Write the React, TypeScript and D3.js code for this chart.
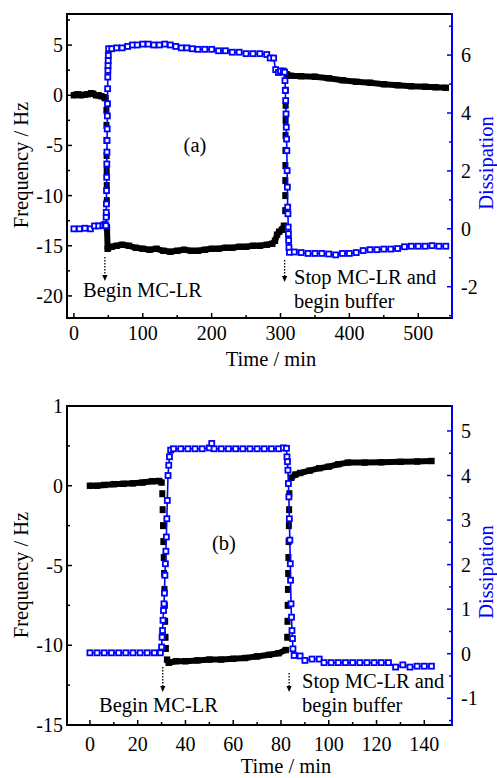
import React from "react";
import * as d3 from "d3";

const W = 497;
const H = 778;
const FONT = "Liberation Serif, DejaVu Serif, serif";
const BLUE = "#0000ff";

// ---------------- Panel (a) data ----------------
const xTicksA = [0, 100, 200, 300, 400, 500];
const xMinorA = [50, 150, 250, 350, 450];
const yLTicksA = [-20, -15, -10, -5, 0, 5];
const yLLabelsA = ["-20", "-15", "-10", "-5", "0", "5"];
const yLMinorA = [-17.5, -12.5, -7.5, -2.5, 2.5, 7.5];
const yRTicksA = [-2, 0, 2, 4, 6];
const yRMinorA = [-3, -1, 1, 3, 5, 7];

const freqA_before = [[0, 0], [3, 0.05], [6, 0.1], [10, 0.0], [15, 0.05], [20, 0.1], [25, 0.2], [28, 0.15], [32, 0.0], [36, 0.0], [40, -0.1], [44, -0.2], [46, -0.3]];
const freqA_drop = [[47.2, -1.5], [47.3, -3], [47.4, -4.5], [47.5, -6], [47.6, -7.5], [47.7, -9], [47.8, -10.5], [47.9, -12], [48, -13.2]];
const freqA_mid = [[48, -13.2], [49, -15.3], [55, -15.1], [62, -15.0], [70, -14.9], [80, -15.0], [90, -15.2], [100, -15.3], [110, -15.4], [120, -15.3], [130, -15.5], [140, -15.6], [150, -15.5], [160, -15.4], [170, -15.5], [180, -15.5], [190, -15.4], [200, -15.3], [210, -15.3], [220, -15.2], [230, -15.2], [240, -15.1], [250, -15.1], [260, -15.0], [270, -15.0], [280, -14.9], [288, -14.8], [292, -14.5], [295, -13.9], [298, -13.6], [302, -13.4], [305, -13.0]];
const freqA_rise = [[306.8, -11.5], [306.9, -10], [307, -8.5], [307.1, -7], [307.2, -5.5], [307.3, -4], [307.4, -2.5], [307.5, -1], [307.6, 0.5]];
const freqA_after = [[309, 2.1], [315, 1.95], [330, 1.9], [350, 1.85], [370, 1.7], [390, 1.5], [410, 1.35], [430, 1.25], [450, 1.1], [470, 1.0], [490, 0.9], [510, 0.85], [525, 0.8], [540, 0.75]];

const dissA = [[0, 0.0], [8, 0.0], [16, 0.02], [24, 0.0], [30, 0.1], [36, 0.1], [42, 0.12], [45, 0.15], [46.5, 0.11], [46.8, 0.4], [47.0, 0.57], [47.2, 0.86], [47.4, 1.32], [47.6, 1.78], [47.8, 2.24], [48.0, 2.65], [48.2, 3.05], [48.4, 3.45], [48.6, 3.9], [48.8, 4.32], [49.0, 4.84], [49.2, 5.24], [49.4, 5.47], [49.6, 5.64], [49.8, 5.81], [50, 5.99], [50.5, 6.22], [55, 6.22], [62, 6.25], [70, 6.25], [78, 6.3], [85, 6.35], [92, 6.35], [100, 6.38], [108, 6.38], [116, 6.35], [124, 6.35], [132, 6.38], [140, 6.35], [148, 6.3], [156, 6.25], [164, 6.25], [172, 6.22], [180, 6.2], [190, 6.2], [200, 6.2], [210, 6.15], [220, 6.15], [230, 6.1], [240, 6.1], [250, 6.05], [260, 6.05], [270, 6.05], [280, 6.02], [285, 5.9], [290, 5.9], [293, 5.5], [297, 5.4], [300, 5.45], [304, 5.45], [306, 5.41], [306.5, 5.12], [307, 4.78], [307.5, 4.43], [308, 3.97], [308.4, 3.51], [308.8, 3.1], [309.2, 2.7], [309.6, 2.01], [310, 1.44], [310.4, 0.75], [310.8, 0.52], [311.2, 0.06], [311.5, -0.17], [311.8, -0.4], [312.2, -0.64], [313, -0.81], [320, -0.8], [330, -0.82], [340, -0.85], [350, -0.85], [360, -0.85], [370, -0.87], [380, -0.9], [390, -0.85], [400, -0.85], [410, -0.82], [420, -0.75], [430, -0.72], [440, -0.72], [450, -0.7], [460, -0.7], [470, -0.68], [480, -0.62], [490, -0.6], [500, -0.6], [510, -0.6], [520, -0.58], [530, -0.6], [540, -0.6]];

// ---------------- Panel (b) data ----------------
const xTicksB = [0, 20, 40, 60, 80, 100, 120, 140];
const xMinorB = [10, 30, 50, 70, 90, 110, 130];
const yLTicksB = [-15, -10, -5, 0, 5];
const yLLabelsB = ["-15", "-10", "-5", "0", "1"];
const yLMinorB = [-12.5, -7.5, -2.5, 2.5];
const yRTicksB = [-1, 0, 1, 2, 3, 4, 5];
const yRMinorB = [-1.5, -0.5, 0.5, 1.5, 2.5, 3.5, 4.5];

const freqB_before = [[0, 0.0], [3, 0.0], [6, 0.05], [10, 0.1], [14, 0.12], [18, 0.15], [22, 0.2], [26, 0.28], [29, 0.3], [30, 0.2]];
const freqB_drop = [[30.3, -0.5], [30.45, -1.5], [30.6, -2.5], [30.75, -3.5], [30.9, -4.5], [31.05, -5.5], [31.2, -6.5], [31.35, -7.5], [31.5, -8.5], [31.65, -9.5], [31.8, -10.2]];
const freqB_mid = [[32.3, -10.9], [33, -11.1], [36, -11.0], [40, -11.0], [45, -10.95], [50, -10.9], [55, -10.9], [60, -10.85], [65, -10.8], [70, -10.7], [75, -10.6], [79, -10.5], [82, -10.3]];
const freqB_rise = [[82.6, -9.5], [82.7, -8.5], [82.8, -7.5], [82.9, -6.5], [83.0, -5.5], [83.1, -4.5], [83.2, -3.5], [83.3, -2.5], [83.4, -1.5], [83.5, -0.5]];
const freqB_after = [[84.3, 0.5], [86, 0.7], [88, 0.8], [92, 0.95], [96, 1.1], [100, 1.2], [104, 1.35], [108, 1.45], [115, 1.45], [122, 1.47], [130, 1.5], [137, 1.52], [143, 1.55]];

const dissB = [[0, 0.02], [3, 0.02], [6, 0.02], [9, 0.02], [12, 0.02], [15, 0.02], [18, 0.02], [21, 0.02], [24, 0.02], [27, 0.02], [29.5, 0.02], [30.0, 0.15], [30.2, 0.37], [30.4, 0.52], [30.6, 0.75], [30.8, 0.97], [31.0, 1.12], [31.2, 1.36], [31.4, 1.76], [31.6, 2.02], [31.8, 2.3], [32.0, 2.62], [32.2, 3.03], [32.4, 3.44], [32.7, 4.0], [33.0, 4.23], [33.3, 4.42], [33.8, 4.57], [35, 4.6], [38, 4.6], [41, 4.6], [44, 4.6], [47, 4.6], [50, 4.62], [51, 4.72], [52, 4.6], [55, 4.6], [58, 4.6], [61, 4.6], [64, 4.6], [67, 4.6], [70, 4.6], [73, 4.6], [76, 4.6], [79, 4.6], [81, 4.62], [82.3, 4.61], [82.5, 4.42], [82.7, 4.31], [82.9, 4.12], [83.1, 3.82], [83.3, 3.52], [83.5, 3.03], [83.7, 2.55], [83.9, 2.02], [84.0, 1.65], [84.2, 1.12], [84.4, 0.82], [84.6, 0.52], [84.8, 0.34], [85.0, 0.11], [85.5, -0.04], [88, -0.05], [90, -0.15], [93, -0.12], [96, -0.12], [98, -0.2], [101, -0.2], [104, -0.2], [107, -0.2], [110, -0.2], [113, -0.2], [116, -0.2], [119, -0.2], [122, -0.2], [125, -0.2], [128, -0.3], [131, -0.25], [134, -0.3], [137, -0.28], [140, -0.28], [143, -0.28]];

// ---------------- Layout ----------------
const panels = [
  {
    box: { left: 67, top: 14, right: 452, bottom: 318 },
    xDomain: [-10, 549], yLDomain: [-22.2, 8.1], yRDomain: [-3.08, 7.42],
    xTicks: xTicksA, xMinor: xMinorA, yLTicks: yLTicksA, yLLabels: yLLabelsA, yLMinor: yLMinorA,
    yRTicks: yRTicksA, yRMinor: yRMinorA,
    freqLines: [freqA_before, freqA_mid, freqA_after], freqDashes: [freqA_drop, freqA_rise], diss: dissA,
    tag: "(a)", tagX: 195, tagY: 152,
    xLabelX: 271, xLabelY: 366, yLabelY: 165, rLabelY: 163,
    xTickBase: 340,
    notes: [
      { t: 45, y0: 257, y1: 281, tx: 83, lines: ["Begin MC-LR"], ty: 297 },
      { t: 306, y0: 260, y1: 282, tx: 294, lines: ["Stop MC-LR and", "begin buffer"], ty: 284 },
    ],
  },
  {
    box: { left: 67, top: 406, right: 452, bottom: 725 },
    xDomain: [-9.6, 151.6], yLDomain: [-15, 5], yRDomain: [-1.6, 5.56],
    xTicks: xTicksB, xMinor: xMinorB, yLTicks: yLTicksB, yLLabels: yLLabelsB, yLMinor: yLMinorB,
    yRTicks: yRTicksB, yRMinor: yRMinorB,
    freqLines: [freqB_before, freqB_mid, freqB_after], freqDashes: [freqB_drop, freqB_rise], diss: dissB,
    tag: "(b)", tagX: 224, tagY: 550,
    xLabelX: 286, xLabelY: 773, yLabelY: 575, rLabelY: 572,
    xTickBase: 751,
    notes: [
      { t: 30.5, y0: 667, y1: 692, tx: 99, lines: ["Begin MC-LR"], ty: 712 },
      { t: 83.4, y0: 673, y1: 692, tx: 302, lines: ["Stop MC-LR and", "begin buffer"], ty: 688 },
    ],
  },
];

function Panel({ p }: { p: any }) {
  const { box } = p;
  const x = d3.scaleLinear().domain(p.xDomain).range([box.left, box.right]);
  const yL = d3.scaleLinear().domain(p.yLDomain).range([box.bottom, box.top]);
  const yR = d3.scaleLinear().domain(p.yRDomain).range([box.bottom, box.top]);
  const lineL = d3.line<number[]>().x((d) => x(d[0])).y((d) => yL(d[1]));
  const lineR = d3.line<number[]>().x((d) => x(d[0])).y((d) => yR(d[1]));
  const MAJ = 5, MIN = 3;
  const ts = { fontFamily: FONT };
  return (
    <g>
      {p.freqLines.map((seg: number[][], i: number) => (
        <path key={"fl" + i} d={lineL(seg) || ""} fill="none" stroke="#000" strokeWidth={6} strokeLinejoin="round" />
      ))}
      {p.freqLines.flat().map((d: number[], i: number) => (
        <rect key={"fp" + i} x={x(d[0]) - 3.2} y={yL(d[1]) - 3.2} width={6.4} height={6.4} fill="#000" />
      ))}
      {p.freqDashes.flat().map((d: number[], i: number) => (
        <rect key={"fd" + i} x={x(d[0]) - 3} y={yL(d[1]) - 3.5} width={6} height={7} fill="#000" />
      ))}
      <path d={lineR(p.diss) || ""} fill="none" stroke={BLUE} strokeWidth={1.6} />
      {p.diss.map((d: number[], i: number) => (
        <rect key={"dp" + i} x={x(d[0]) - 2.5} y={yR(d[1]) - 2.5} width={5} height={5} fill="#fff" stroke={BLUE} strokeWidth={1.8} />
      ))}

      <line x1={box.left} y1={box.top} x2={box.right} y2={box.top} stroke="#000" strokeWidth={2} />
      <line x1={box.left} y1={box.bottom} x2={box.right} y2={box.bottom} stroke="#000" strokeWidth={2} />
      <line x1={box.left} y1={box.top - 1} x2={box.left} y2={box.bottom + 1} stroke="#000" strokeWidth={2} />
      <line x1={box.right} y1={box.top - 1} x2={box.right} y2={box.bottom + 1} stroke={BLUE} strokeWidth={2} />

      {p.xTicks.map((t: number) => (
        <g key={"xt" + t}>
          <line x1={x(t)} x2={x(t)} y1={box.bottom} y2={box.bottom - MAJ} stroke="#000" strokeWidth={1.5} />
          <text x={x(t)} y={p.xTickBase} textAnchor="middle" fontSize={20} style={ts}>{t}</text>
        </g>
      ))}
      {p.xMinor.map((t: number) => (
        <line key={"xm" + t} x1={x(t)} x2={x(t)} y1={box.bottom} y2={box.bottom - MIN} stroke="#000" strokeWidth={1.5} />
      ))}
      {p.yLTicks.map((t: number, i: number) => (
        <g key={"yl" + t}>
          <line x1={box.left} x2={box.left + MAJ} y1={yL(t)} y2={yL(t)} stroke="#000" strokeWidth={1.5} />
          <text x={box.left - 4} y={yL(t) + 7} textAnchor="end" fontSize={20} style={ts}>{p.yLLabels[i]}</text>
        </g>
      ))}
      {p.yLMinor.map((t: number) => (
        <line key={"ylm" + t} x1={box.left} x2={box.left + MIN} y1={yL(t)} y2={yL(t)} stroke="#000" strokeWidth={1.5} />
      ))}
      {p.yRTicks.map((t: number) => (
        <g key={"yr" + t}>
          <line x1={box.right} x2={box.right - MAJ} y1={yR(t)} y2={yR(t)} stroke={BLUE} strokeWidth={1.5} />
          <text x={box.right + 9} y={yR(t) + 7} textAnchor="start" fontSize={20} style={ts}>{t}</text>
        </g>
      ))}
      {p.yRMinor.map((t: number) => (
        <line key={"yrm" + t} x1={box.right} x2={box.right - MIN} y1={yR(t)} y2={yR(t)} stroke={BLUE} strokeWidth={1.5} />
      ))}

      <text x={p.xLabelX} y={p.xLabelY} textAnchor="middle" fontSize={20.5} style={ts}>Time / min</text>
      <text transform={`translate(28,${p.yLabelY}) rotate(-90)`} textAnchor="middle" fontSize={20.5} style={ts}>Frequency / Hz</text>
      <text transform={`translate(492.5,${p.rLabelY}) rotate(-90)`} textAnchor="middle" fontSize={20.5} style={ts} fill={BLUE}>Dissipation</text>

      <text x={p.tagX} y={p.tagY} textAnchor="middle" fontSize={20.5} style={ts}>{p.tag}</text>

      {p.notes.map((n: any, i: number) => {
        const ax = x(n.t);
        return (
          <g key={"n" + i}>
            <line x1={ax} x2={ax} y1={n.y0} y2={n.y1 - 5} stroke="#000" strokeWidth={1.3} strokeDasharray="1.6,1.4" />
            <path d={`M${ax - 2.6},${n.y1 - 6} L${ax + 2.6},${n.y1 - 6} L${ax},${n.y1} Z`} fill="#000" />
            {n.lines.map((s: string, j: number) => (
              <text key={j} x={n.tx} y={n.ty + j * 24} fontSize={20.5} style={ts}>{s}</text>
            ))}
          </g>
        );
      })}
    </g>
  );
}

export default function App() {
  return (
    <svg width={W} height={H} viewBox={`0 0 ${W} ${H}`} style={{ position: "absolute", left: 0, top: 0, background: "#fff" }}>
      <rect x={0} y={0} width={W} height={H} fill="#fff" />
      {panels.map((p, i) => (
        <Panel key={i} p={p} />
      ))}
    </svg>
  );
}
